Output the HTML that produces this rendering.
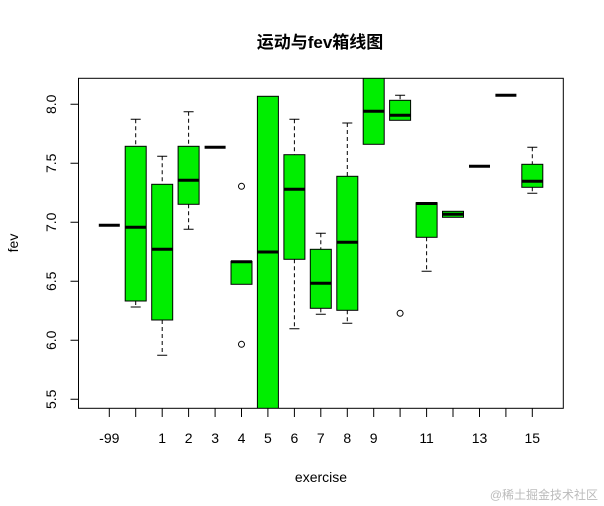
<!DOCTYPE html>
<html><head><meta charset="utf-8"><style>html,body{margin:0;padding:0;background:#fff}svg{display:block}</style></head><body>
<svg width="604" height="506" viewBox="0 0 604 506" xmlns="http://www.w3.org/2000/svg" font-family="'Liberation Sans','Noto Sans CJK SC',sans-serif">
<defs><clipPath id="c"><rect x="78.5" y="78.3" width="484.8" height="330"/></clipPath></defs>
<text x="320" y="48" font-size="17" font-weight="bold" text-anchor="middle">运动与fev箱线图</text>
<g clip-path="url(#c)" stroke="#000" stroke-width="1">
<!-- whiskers -->
<g stroke-dasharray="4,3">
<line x1="135.7" y1="119.3" x2="135.7" y2="146.3"/><line x1="135.7" y1="301" x2="135.7" y2="307"/>
<line x1="162.2" y1="156.3" x2="162.2" y2="184.3"/><line x1="162.2" y1="320" x2="162.2" y2="355.3"/>
<line x1="188.6" y1="111.7" x2="188.6" y2="146.3"/><line x1="188.6" y1="204.3" x2="188.6" y2="229.3"/>
<line x1="294.4" y1="119.3" x2="294.4" y2="154.7"/><line x1="294.4" y1="259.3" x2="294.4" y2="328.7"/>
<line x1="320.8" y1="233.3" x2="320.8" y2="249.3"/><line x1="320.8" y1="308.3" x2="320.8" y2="314.3"/>
<line x1="347.3" y1="123" x2="347.3" y2="176.3"/><line x1="347.3" y1="310.3" x2="347.3" y2="323.3"/>
<line x1="400.1" y1="95.3" x2="400.1" y2="100.3"/>
<line x1="426.6" y1="237.3" x2="426.6" y2="271.3"/>
<line x1="532.3" y1="147.3" x2="532.3" y2="164.3"/><line x1="532.3" y1="187.3" x2="532.3" y2="193.3"/>
</g>
<!-- caps -->
<path d="M130.7 119.3h10M130.7 307h10M157.2 156.3h10M157.2 355.3h10M183.6 111.7h10M183.6 229.3h10M289.4 119.3h10M289.4 328.7h10M315.8 233.3h10M315.8 314.3h10M342.3 123h10M342.3 323.3h10M395.1 95.3h10M421.6 271.3h10M527.3 147.3h10M527.3 193.3h10"/>
<!-- boxes -->
<g fill="#00ee00">
<rect x="125.2" y="146.3" width="21" height="154.7"/>
<rect x="151.7" y="184.3" width="21" height="135.7"/>
<rect x="178.1" y="146.3" width="21" height="58"/>
<rect x="231" y="261.3" width="21" height="23"/>
<rect x="257.4" y="96.3" width="21" height="320"/>
<rect x="283.9" y="154.7" width="21" height="104.6"/>
<rect x="310.3" y="249.3" width="21" height="59"/>
<rect x="336.8" y="176.3" width="21" height="134"/>
<rect x="363.2" y="70" width="21" height="74.3"/>
<rect x="389.6" y="100.3" width="21" height="20"/>
<rect x="416.1" y="202.7" width="21" height="34.6"/>
<rect x="442.5" y="211.3" width="21" height="6"/>
<rect x="521.8" y="164.3" width="21" height="23"/>
</g>
<!-- medians -->
<g stroke-width="3">
<path d="M98.8 225.3h21M125.2 227.3h21M151.7 249.3h21M178.1 180.3h21M204.6 147.3h21M231 261.8h21M257.4 252h21M283.9 189.3h21M310.3 283.3h21M336.8 242.3h21M363.2 111.3h21M389.6 115.3h21M416.1 203.5h21M442.5 214.3h21M469 166.3h21M495.4 95.3h21M521.8 181.3h21"/>
</g>
<!-- outliers -->
<g fill="none"><circle cx="241.5" cy="186.3" r="3"/><circle cx="241.5" cy="344.3" r="3"/><circle cx="400.1" cy="313.3" r="3"/></g>
</g>
<rect x="78.5" y="78.3" width="484.8" height="330" fill="none" stroke="#000" stroke-width="1"/>
<!-- axis ticks -->
<g stroke="#000">
<path d="M109.3 408v9M135.7 408v9M162.2 408v9M188.6 408v9M215.1 408v9M241.5 408v9M267.9 408v9M294.4 408v9M320.8 408v9M347.3 408v9M373.7 408v9M400.1 408v9M426.6 408v9M453 408v9M479.5 408v9M505.9 408v9M532.3 408v9"/>
<path d="M78.5 104.3h-8M78.5 163.3h-8M78.5 222.3h-8M78.5 281.3h-8M78.5 340.3h-8M78.5 399.3h-8"/>
</g>
<g font-size="14" text-anchor="middle">
<text x="109.3" y="443">-99</text><text x="162.2" y="443">1</text><text x="188.6" y="443">2</text><text x="215.1" y="443">3</text><text x="241.5" y="443">4</text><text x="267.9" y="443">5</text><text x="294.4" y="443">6</text><text x="320.8" y="443">7</text><text x="347.3" y="443">8</text><text x="373.7" y="443">9</text><text x="426.6" y="443">11</text><text x="479.5" y="443">13</text><text x="532.3" y="443">15</text>
<text transform="translate(56,104.3) rotate(-90)">8.0</text>
<text transform="translate(56,163.3) rotate(-90)">7.5</text>
<text transform="translate(56,222.3) rotate(-90)">7.0</text>
<text transform="translate(56,281.3) rotate(-90)">6.5</text>
<text transform="translate(56,340.3) rotate(-90)">6.0</text>
<text transform="translate(56,399.3) rotate(-90)">5.5</text>
<text x="321" y="482">exercise</text>
<text transform="translate(18,243) rotate(-90)">fev</text>
</g>
<text x="598" y="499" font-size="12" fill="#bbb" text-anchor="end">@稀土掘金技术社区</text>
</svg>
</body></html>
